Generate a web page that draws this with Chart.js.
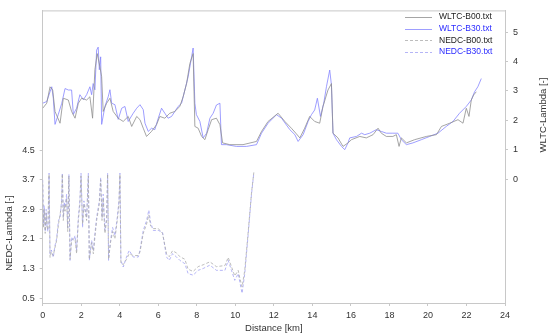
<!DOCTYPE html>
<html>
<head>
<meta charset="utf-8">
<script src="https://cdn.jsdelivr.net/npm/chart.js@4.4.1/dist/chart.umd.min.js"></script>
<style>
  html, body { margin: 0; padding: 0; background: #fff; }
</style>
</head>
<body>
<canvas id="chart" width="550" height="336"></canvas>
<script>
// ── Data (distance km, lambda) ───────────────────────────
const xTicks    = [0, 2, 4, 6, 8, 10, 12, 14, 16, 18, 20, 22, 24];
const nedcTicks = [0.5, 1.3, 2.1, 2.9, 3.7, 4.5];
const wltcTicks = [0, 1, 2, 3, 4, 5];

const seriesNames = ['WLTC-B00.txt', 'WLTC-B30.txt', 'NEDC-B00.txt', 'NEDC-B30.txt'];

const wltcB00 = [
  [0.00,2.41],[0.21,2.58],[0.38,3.14],[0.52,3.03],[0.64,2.30],[0.90,1.90],[1.07,2.75],[1.33,2.69],
  [1.50,2.30],[1.68,2.07],[1.85,2.58],[2.02,2.75],[2.28,2.69],[2.45,2.80],[2.59,2.07],[2.71,3.72],
  [2.83,4.27],[2.97,3.82],[3.06,3.48],[3.14,2.30],[3.32,2.58],[3.49,2.75],[3.66,2.30],[3.92,2.07],
  [4.18,1.96],[4.44,2.13],[4.62,1.79],[4.88,2.13],[5.05,2.02],[5.22,1.73],[5.39,1.45],[5.65,1.62],
  [5.91,1.85],[6.08,2.13],[6.34,2.07],[6.60,2.24],[6.86,2.30],[7.12,2.47],[7.29,2.80],[7.47,3.25],
  [7.64,3.93],[7.81,4.27],[7.90,1.79],[8.07,1.73],[8.25,1.45],[8.42,1.34],[8.59,1.68],[8.77,2.02],
  [9.02,2.07],[9.20,1.85],[9.34,1.23],[9.71,1.17],[10.40,1.17],[11.10,1.28],[11.36,1.62],[11.70,1.96],
  [12.22,2.24],[12.57,1.96],[12.91,1.73],[13.14,1.56],[13.35,1.40],[13.60,1.73],[13.86,2.13],[14.12,1.96],
  [14.38,1.90],[14.55,2.47],[14.81,3.03],[14.99,3.25],[15.07,1.56],[15.33,1.40],[15.59,1.11],[15.85,1.23],
  [16.03,1.34],[16.46,1.45],[16.80,1.40],[17.15,1.51],[17.41,1.73],[17.58,1.56],[17.84,1.45],[18.18,1.45],
  [18.36,1.51],[18.50,1.11],[18.62,1.40],[18.88,1.23],[19.31,1.34],[19.92,1.45],[20.44,1.51],[20.70,1.79],
  [21.13,1.90],[21.56,2.02],[21.82,1.90],[21.99,2.41],[22.13,2.13],[22.25,2.69],[22.37,2.86],[22.51,2.97]
];

const wltcB30 = [
  [0.00,2.58],[0.21,2.64],[0.38,2.97],[0.47,3.14],[0.55,2.75],[0.64,1.86],[0.81,2.20],[0.99,2.58],
  [1.16,3.08],[1.33,3.03],[1.50,3.03],[1.59,2.20],[1.76,2.41],[1.93,2.87],[2.11,2.70],[2.28,2.87],
  [2.45,3.14],[2.54,2.87],[2.62,3.25],[2.71,3.04],[2.80,4.39],[2.88,4.49],[2.94,3.72],[3.01,4.16],
  [3.06,1.86],[3.23,2.47],[3.40,2.80],[3.49,3.04],[3.58,2.58],[3.75,2.53],[3.92,2.03],[4.10,2.41],
  [4.27,2.47],[4.44,1.96],[4.70,2.24],[4.88,2.41],[5.05,2.53],[5.22,2.36],[5.31,1.90],[5.48,1.62],
  [5.65,1.73],[5.82,1.68],[6.00,2.07],[6.17,2.41],[6.34,2.24],[6.51,2.07],[6.69,2.13],[6.86,2.30],
  [7.03,2.47],[7.21,2.58],[7.38,3.03],[7.55,3.48],[7.73,4.16],[7.81,4.46],[7.90,2.58],[7.98,2.19],
  [8.16,1.96],[8.33,1.40],[8.51,1.56],[8.68,2.07],[8.85,2.24],[9.02,2.52],[9.20,2.58],[9.28,1.17],
  [9.54,1.17],[10.06,1.11],[10.58,1.11],[11.10,1.17],[11.36,1.56],[11.70,1.90],[12.14,2.19],[12.40,2.07],
  [12.83,1.68],[13.09,1.51],[13.26,1.28],[13.52,1.51],[13.78,1.96],[13.95,2.19],[14.12,2.35],[14.26,2.75],
  [14.42,2.13],[14.59,2.58],[14.73,3.14],[14.90,3.71],[14.99,3.20],[15.07,1.56],[15.25,1.34],[15.51,1.11],
  [15.68,1.00],[15.85,1.23],[15.94,1.40],[16.29,1.45],[16.55,1.56],[16.72,1.51],[16.98,1.56],[17.32,1.68],
  [17.58,1.62],[17.84,1.56],[18.18,1.56],[18.44,1.56],[18.62,1.34],[18.88,1.17],[19.22,1.23],[19.66,1.34],
  [20.09,1.45],[20.52,1.56],[20.95,1.79],[21.30,1.96],[21.64,2.24],[21.99,2.47],[22.25,2.69],[22.42,2.97],
  [22.59,3.14],[22.77,3.42]
];

const nedcB00 = [
  [0.00,3.60],[0.04,2.40],[0.08,2.90],[0.13,2.25],[0.18,2.80],[0.21,2.45],[0.27,2.35],[0.33,3.85],
  [0.38,1.60],[0.45,1.75],[0.55,1.65],[0.63,1.85],[0.72,2.05],[0.82,2.50],[0.90,2.75],[0.98,3.05],
  [1.02,3.85],[1.07,2.60],[1.12,3.00],[1.16,2.85],[1.24,3.20],[1.30,2.30],[1.36,3.80],[1.42,1.55],
  [1.50,2.05],[1.59,2.10],[1.68,2.10],[1.76,1.70],[1.85,2.60],[1.93,3.05],[1.99,3.80],[2.07,2.50],
  [2.14,3.05],[2.28,2.60],[2.37,3.80],[2.42,1.55],[2.54,2.00],[2.63,1.70],[2.71,2.15],[2.80,2.60],
  [2.94,3.05],[3.01,3.70],[3.08,2.60],[3.14,3.20],[3.23,2.25],[3.32,2.60],[3.37,3.85],[3.42,1.55],
  [3.52,2.00],[3.63,2.30],[3.75,2.10],[3.87,2.60],[3.96,3.05],[4.01,3.85],[4.06,1.45],[4.18,1.40],
  [4.35,1.55],[4.49,1.70],[4.70,1.65],[4.96,1.65],[5.05,1.75],[5.22,2.25],[5.39,2.50],[5.51,2.75],
  [5.60,2.45],[5.74,2.38],[6.00,2.38],[6.22,2.25],[6.43,1.70],[6.57,1.62],[6.74,1.78],[6.95,1.72],
  [7.12,1.62],[7.38,1.55],[7.55,1.28],[7.81,1.22],[8.07,1.35],[8.33,1.40],[8.68,1.48],[9.02,1.35],
  [9.46,1.38],[9.63,1.60],[9.80,1.35],[9.97,1.10],[10.15,1.25],[10.23,1.05],[10.35,0.80],[10.49,1.25],
  [10.67,2.30],[10.84,3.35],[10.96,3.90]
];

const nedcB30 = [
  [0.00,3.70],[0.04,2.50],[0.08,3.00],[0.13,2.30],[0.18,2.90],[0.21,2.50],[0.27,2.30],[0.33,3.88],
  [0.38,1.70],[0.45,1.80],[0.55,1.60],[0.63,1.90],[0.72,2.10],[0.82,2.60],[0.90,2.68],[0.98,3.13],
  [1.02,3.88],[1.07,2.68],[1.12,3.10],[1.16,2.95],[1.24,3.31],[1.30,2.40],[1.36,3.85],[1.42,1.52],
  [1.50,2.15],[1.59,2.06],[1.68,2.19],[1.76,1.79],[1.85,2.68],[1.93,3.13],[1.99,3.88],[2.07,2.41],
  [2.14,3.13],[2.28,2.68],[2.37,3.88],[2.42,1.52],[2.54,2.06],[2.63,1.79],[2.71,2.24],[2.80,2.68],
  [2.94,3.13],[3.01,3.76],[3.08,2.68],[3.14,3.31],[3.23,2.33],[3.32,2.68],[3.37,3.88],[3.42,1.52],
  [3.52,2.06],[3.63,2.41],[3.75,2.19],[3.87,2.68],[3.96,3.13],[4.01,3.88],[4.06,1.52],[4.18,1.34],
  [4.35,1.61],[4.49,1.79],[4.70,1.61],[4.96,1.61],[5.05,1.79],[5.22,2.33],[5.39,2.59],[5.51,2.88],
  [5.60,2.55],[5.74,2.33],[6.00,2.33],[6.22,2.28],[6.43,1.61],[6.57,1.52],[6.74,1.70],[6.95,1.61],
  [7.12,1.52],[7.38,1.43],[7.55,1.16],[7.81,1.12],[8.07,1.25],[8.33,1.30],[8.68,1.39],[9.02,1.25],
  [9.46,1.25],[9.63,1.52],[9.80,1.25],[9.97,0.98],[10.15,1.16],[10.23,0.94],[10.35,0.63],[10.49,1.16],
  [10.67,2.24],[10.84,3.31],[10.96,3.88]
];

// ── Styling ──────────────────────────────────────────────
const FONT = 'Arial, "Liberation Sans", sans-serif';
const TEXT = '#333';
const FRAME = '#c8c8c8';
const legendText = ['#222', '#2a2aff', '#222', '#2a2aff'];

const toXY = arr => arr.map(([x, y]) => ({ x, y }));

function line(label, data, axis, color, dash) {
  return {
    label,
    data: toXY(data),
    yAxisID: axis,
    borderColor: color,
    borderWidth: 0.8,
    borderDash: dash,
    pointRadius: 0,
    tension: 0,
    fill: false,
  };
}

// frame top edge, axis titles and legend
const decor = {
  id: 'decor',
  afterDraw(chart) {
    const { ctx, chartArea: a } = chart;
    ctx.save();
    ctx.strokeStyle = FRAME;
    ctx.lineWidth = 1;
    ctx.beginPath();
    ctx.moveTo(a.left, a.top + 0.5);
    ctx.lineTo(a.right, a.top + 0.5);
    ctx.stroke();

    ctx.fillStyle = TEXT;
    ctx.font = '9.5px ' + FONT;
    ctx.textAlign = 'center';
    ctx.textBaseline = 'middle';
    ctx.fillText('Distance [km]', (a.left + a.right) / 2, 328);

    ctx.save();
    ctx.translate(9, 233);
    ctx.rotate(-Math.PI / 2);
    ctx.fillText('NEDC-Lambda [-]', 0, 0);
    ctx.restore();

    ctx.save();
    ctx.translate(543, 115);
    ctx.rotate(-Math.PI / 2);
    ctx.fillText('WLTC-Lambda [-]', 0, 0);
    ctx.restore();

    // legend
    ctx.font = '8.5px ' + FONT;
    ctx.textAlign = 'left';
    chart.data.datasets.forEach((ds, i) => {
      const y = 17 + i * 11.6;
      ctx.strokeStyle = ds.borderColor;
      ctx.lineWidth = 0.8;
      ctx.setLineDash(ds.borderDash || []);
      ctx.beginPath();
      ctx.moveTo(a.right - 100, Math.round(y) + 0.5);
      ctx.lineTo(a.right - 73, Math.round(y) + 0.5);
      ctx.stroke();
      ctx.fillStyle = legendText[i];
      ctx.fillText(ds.label, a.right - 66, y);
    });
    ctx.restore();
  }
};

const tickFont = { size: 9, family: FONT };
const axisGrid = { drawOnChartArea: false, drawTicks: true, tickLength: 3, color: FRAME };

new Chart(document.getElementById('chart'), {
  type: 'line',
  data: {
    datasets: [
      line(seriesNames[0], wltcB00, 'yW', '#8e8e8e', []),
      line(seriesNames[1], wltcB30, 'yW', '#8585ff', []),
      line(seriesNames[2], nedcB00, 'yN', '#acacac', [3, 2]),
      line(seriesNames[3], nedcB30, 'yN', '#a2a2f4', [3, 2]),
    ],
  },
  options: {
    responsive: false,
    animation: false,
    layout: { padding: { top: 8, left: 0, right: 0, bottom: 0 } },
    plugins: { legend: { display: false }, tooltip: { enabled: false } },
    scales: {
      x: {
        type: 'linear',
        min: 0,
        max: 24,
        afterBuildTicks: s => { s.ticks = xTicks.map(v => ({ value: v })); },
        afterFit: s => { s.height = 33; },
        ticks: { color: TEXT, font: tickFont, padding: 4, maxRotation: 0, autoSkip: false },
        grid: axisGrid,
        border: { color: FRAME },
      },
      yN: {
        position: 'left',
        min: 0.366,
        max: 8.285,
        afterBuildTicks: s => { s.ticks = nedcTicks.map(v => ({ value: v })); },
        afterFit: s => { s.width = 42.7; },
        ticks: { color: TEXT, font: tickFont, padding: 5, autoSkip: false, callback: v => v.toFixed(1) },
        grid: axisGrid,
        border: { color: FRAME },
      },
      yW: {
        position: 'right',
        min: -4.22,
        max: 5.74,
        afterBuildTicks: s => { s.ticks = wltcTicks.map(v => ({ value: v })); },
        afterFit: s => { s.width = 45; },
        ticks: { color: TEXT, font: tickFont, padding: 5, autoSkip: false, callback: v => String(v) },
        grid: axisGrid,
        border: { color: FRAME },
      },
    },
  },
  plugins: [decor],
});
</script>
</body>
</html>
